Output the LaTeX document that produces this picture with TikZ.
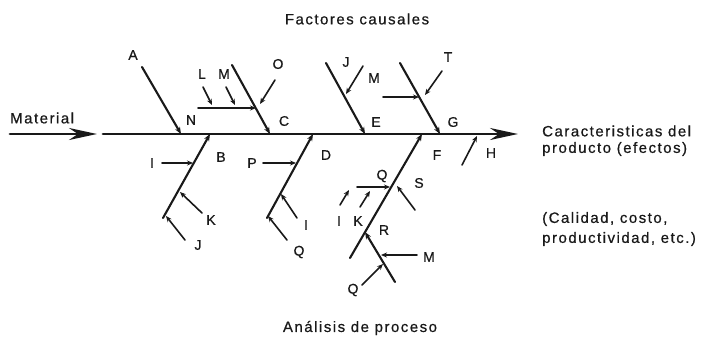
\documentclass[tikz,border=0pt]{standalone}
\usepackage{fontspec}
\setmainfont{Liberation Sans}[LetterSpace=10,FakeBold=0.6]
\usetikzlibrary{arrows.meta}
\tikzset{
  every picture/.style={line join=round, line cap=round, >=Stealth},
  spine/.style={line width=2.8pt, -{Stealth[length=28pt,width=12pt,inset=9pt]}},
  bone/.style={line width=2.1pt, -{Stealth[length=7pt,width=5.5pt]}},
  twig/.style={line width=1.6pt, -{Stealth[length=6pt,width=5pt]}},
  lbl/.style={font=\fontsize{14}{16}\selectfont, inner sep=0pt},
  txt/.style={font=\fontsize{15}{18}\selectfont, inner sep=0pt, anchor=west},
}

\begin{document}
\begin{tikzpicture}[x=1pt,y=-1pt,black!90]
\useasboundingbox (0,0) rectangle (703,340);
% titles
\node[txt,anchor=center] (tTop) at (357,19) {Factores causales};
\node[txt,anchor=center] (tBot) at (360,328) {Análisis de proceso};
\node[txt] (tMat) at (10,118) {Material};
\node[txt] (tEf1) at (542,131) {Caracteristicas del};
\node[txt] (tEf2) at (542,149) {producto (efectos)};
\node[txt] (tCa1) at (542,219) {(Calidad, costo,};
\node[txt] (tCa2) at (542,239) {productividad, etc.)};
% spine
\coordinate (m0) at (10,134);
\coordinate (m1) at (97,134);
\coordinate (s0) at (103,134);
\coordinate (s1) at (518,134);
\draw[spine] (m0) -- (m1);
\draw[spine] (s0) -- (s1);
% upper bones
\coordinate (a0) at (142,67);  \coordinate (a1) at (181,134);
\coordinate (c0) at (232,65);  \coordinate (c1) at (270,134);
\coordinate (e0) at (326,63);  \coordinate (e1) at (365,134);
\coordinate (g0) at (400,63);  \coordinate (g1) at (440,134);
\draw[bone] (a0) -- (a1);
\draw[bone] (c0) -- (c1);
\draw[bone] (e0) -- (e1);
\draw[bone] (g0) -- (g1);
\node[lbl] (lA) at (133,55) {A};
\node[lbl] (lN) at (191,120) {N};
\node[lbl] (lC) at (284,121) {C};
\node[lbl] (lJ1) at (346,62) {J};
\node[lbl] (lM1) at (374,78) {M};
\node[lbl] (lE) at (376,122) {E};
\node[lbl] (lT) at (448,57) {T};
\node[lbl] (lG) at (453,122) {G};
% twigs above
\coordinate (h0) at (198,108); \coordinate (h1) at (256,108);
\draw[twig] (h0) -- (h1);
\node[lbl] (lL) at (202,74) {L};
\node[lbl] (lM2) at (224,74) {M};
\node[lbl] (lO) at (278,64) {O};
\coordinate (l0) at (203,87);  \coordinate (l1) at (212,105);
\coordinate (n0) at (226,87);  \coordinate (n1) at (235,105);
\coordinate (o0) at (275,80);  \coordinate (o1) at (260,104);
\coordinate (j0) at (363,66);  \coordinate (j1) at (346,94);
\coordinate (k0) at (383,97);  \coordinate (k1) at (419,97);
\coordinate (t0) at (442,71);  \coordinate (t1) at (425,95);
\foreach \p in {l,n,o,j,k,t}
  \draw[twig] (\p0) -- (\p1);
% lower bones
\coordinate (b0) at (163,218); \coordinate (b1) at (210,134);
\coordinate (d0) at (267,218); \coordinate (d1) at (313,134);
\coordinate (f0) at (350,258); \coordinate (f1) at (422,134);
\coordinate (r0) at (395,282); \coordinate (r1) at (365,232);
\draw[bone] (b0) -- (b1);
\draw[bone] (d0) -- (d1);
\draw[bone] (f0) -- (f1);
\draw[bone] (r0) -- (r1);
\node[lbl] (lB) at (221,157) {B};
\node[lbl] (lD) at (326,155) {D};
\node[lbl] (lF) at (437,155) {F};
\node[lbl] (lR) at (384,230) {R};
\node[lbl] (lH) at (491,153) {H};
% twigs below
\node[lbl] (lI1) at (152,163) {I};
\node[lbl] (lK1) at (211,220) {K};
\node[lbl] (lJ2) at (198,245) {J};
\node[lbl] (lP) at (252,163) {P};
\node[lbl] (lI2) at (306,225) {I};
\node[lbl] (lQ1) at (299,252) {Q};
\node[lbl] (lQ2) at (382,176) {Q};
\node[lbl] (lI3) at (339,221) {I};
\node[lbl] (lK2) at (358,221) {K};
\node[lbl] (lS) at (419,183) {S};
\node[lbl] (lM3) at (429,257) {M};
\node[lbl] (lQ3) at (353,290) {Q};
\coordinate (bi0) at (162,163); \coordinate (bi1) at (193,163);
\coordinate (bk0) at (202,213); \coordinate (bk1) at (180,192);
\coordinate (bj0) at (185,240); \coordinate (bj1) at (166,216);
\coordinate (dp0) at (263,163); \coordinate (dp1) at (296,163);
\coordinate (di0) at (297,218); \coordinate (di1) at (281,194);
\coordinate (dq0) at (287,240); \coordinate (dq1) at (268,216);
\coordinate (fq0) at (357,187); \coordinate (fq1) at (390,187);
\coordinate (fi0) at (340,205); \coordinate (fi1) at (349,190);
\coordinate (fk0) at (360,207); \coordinate (fk1) at (370,191);
\coordinate (fs0) at (415,210); \coordinate (fs1) at (397,186);
\coordinate (rm0) at (417,255); \coordinate (rm1) at (381,255);
\coordinate (rq0) at (362,285); \coordinate (rq1) at (383,264);
\coordinate (hh0) at (462,165); \coordinate (hh1) at (477,136);
\foreach \p in {bi,bk,bj,dp,di,dq,fq,fi,fk,fs,rm,rq,hh}
  \draw[twig] (\p0) -- (\p1);
\end{tikzpicture}
\end{document}
